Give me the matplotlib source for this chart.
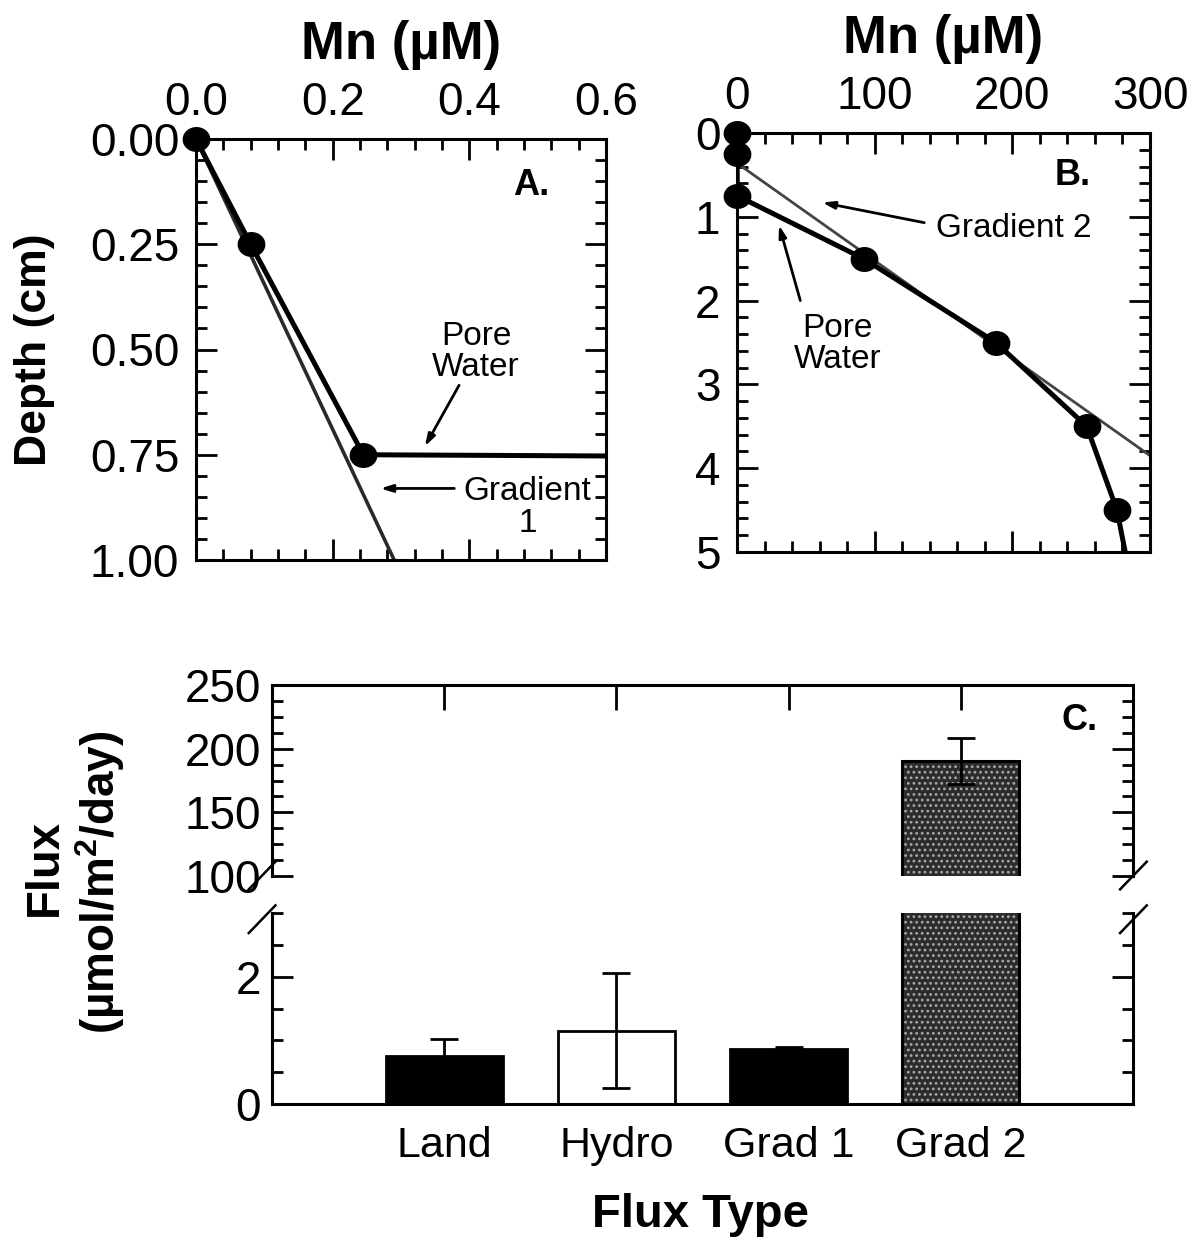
import numpy as np
import matplotlib
matplotlib.use("Agg")
import matplotlib.pyplot as plt
from matplotlib.path import Path
from matplotlib.ticker import MultipleLocator

plt.rcParams["font.family"] = ["Liberation Sans", "DejaVu Sans"]
plt.rcParams["mathtext.fontset"] = "custom"
plt.rcParams["mathtext.rm"] = "Liberation Sans"
plt.rcParams["mathtext.bf"] = "Liberation Sans:bold"
plt.rcParams["axes.linewidth"] = 2.2
plt.rcParams["hatch.linewidth"] = 1.2

# pore-water Mn profile: depth (cm) and Mn (uM)
pw_depth = [0.0, 0.25, 0.75, 1.5, 2.5, 3.5, 4.5, 5.5]
pw_mn = [0.0, 0.08, 0.245, 92.0, 188.0, 254.0, 276.0, 288.0]

# fitted gradients
grad1_depth = [0.0, 1.0]
grad1_mn = [0.0, 0.29]
grad2_depth = [0.36, 3.85]
grad2_mn = [0.0, 300.0]

# flux estimates (umol/m2/day)
flux_types = ["Land", "Hydro", "Grad 1", "Grad 2"]
flux_mean = [0.75, 1.15, 0.87, 190.0]
flux_err = [0.27, 0.9, 0.03, 18.0]
bar_colors = ["black", "white", "black", "#2c2c2c"]

W, H = 1187, 1254
TICK_FS = 33
NOTE_FS = 24
PANEL_FS = 26


def box(left, top, right, bottom):
    return [left / W, 1 - bottom / H, (right - left) / W, (bottom - top) / H]


# slightly wide dot, like the printed symbols
t = np.linspace(0, 2 * np.pi, 64)
dot = Path(np.column_stack([1.12 * np.cos(t), np.sin(t)]))


def profile(ax, xlim, ylim, xmaj, xmin, ymaj, ymin, xfmt, yfmt):
    ax.set_xlim(*xlim)
    ax.set_ylim(ylim[1], ylim[0])
    ax.plot(pw_mn, pw_depth, color="black", lw=3.6, solid_capstyle="butt", zorder=3)
    inside = [(m <= xlim[1]) and (d <= ylim[1]) for m, d in zip(pw_mn, pw_depth)]
    xs = [m for m, k in zip(pw_mn, inside) if k]
    ys = [d for d, k in zip(pw_depth, inside) if k]
    ax.plot(xs, ys, ls="none", marker=dot, ms=19, color="black", clip_on=False, zorder=4)
    ax.xaxis.set_major_locator(MultipleLocator(xmaj))
    ax.xaxis.set_minor_locator(MultipleLocator(xmin))
    ax.yaxis.set_major_locator(MultipleLocator(ymaj))
    ax.yaxis.set_minor_locator(MultipleLocator(ymin))
    ax.xaxis.set_major_formatter(xfmt)
    ax.yaxis.set_major_formatter(yfmt)
    ax.tick_params(which="both", direction="in", top=True, bottom=True, left=True, right=True,
                   labeltop=True, labelbottom=False, width=2, labelsize=TICK_FS)
    ax.tick_params(axis="x", pad=10)
    ax.tick_params(axis="y", pad=12)
    ax.tick_params(which="major", length=15)
    ax.tick_params(which="minor", length=8)
    ax.xaxis.set_label_position("top")
    ax.set_xlabel("Mn (µM)", fontsize=38, fontweight="bold", labelpad=16)


fig = plt.figure(figsize=(W / 100, H / 100), dpi=100)

arrow = dict(arrowstyle="-|>,head_length=0.7,head_width=0.22", lw=2, color="black",
             shrinkA=0, shrinkB=0)

# --- A: shallow profile ---
axA = fig.add_axes(box(196, 139, 606, 560))
profile(axA, (0, 0.6), (0, 1.0), 0.2, 0.04, 0.25, 0.05, "{x:.1f}", "{x:.2f}")
axA.plot(grad1_mn, grad1_depth, color="#2a2a2a", lw=2.6, zorder=2)
axA.text(0.49, 0.11, "A.", fontsize=PANEL_FS, fontweight="bold", ha="center", va="center")
axA.text(0.41, 0.505, "Pore\nWater", fontsize=NOTE_FS, ha="center", va="center", linespacing=1.0)
axA.annotate("", xy=(0.335, 0.73), xytext=(0.385, 0.585), arrowprops=arrow)
axA.text(0.485, 0.875, "Gradient\n1", fontsize=NOTE_FS, ha="center", va="center",
         linespacing=1.05)
axA.annotate("", xy=(0.27, 0.83), xytext=(0.378, 0.83), arrowprops=arrow)
fig.text(35 / W, 1 - 350 / H, "Depth (cm)", rotation=90, ha="center", va="center",
         fontsize=32, fontweight="bold")

# --- B: full profile ---
axB = fig.add_axes(box(737, 133, 1150, 552))
profile(axB, (0, 300), (0, 5), 100, 20, 1, 0.2, "{x:.0f}", "{x:.0f}")
axB.plot(grad2_mn, grad2_depth, color="#444444", lw=2.0, zorder=2)
axB.text(244, 0.51, "B.", fontsize=PANEL_FS, fontweight="bold", ha="center", va="center")
axB.text(201, 1.14, "Gradient 2", fontsize=NOTE_FS, ha="center", va="center")
axB.annotate("", xy=(62, 0.83), xytext=(136, 1.07), arrowprops=arrow)
axB.text(73, 2.52, "Pore\nWater", fontsize=NOTE_FS, ha="center", va="center", linespacing=1.0)
axB.annotate("", xy=(30.5, 1.1), xytext=(46, 2.0), arrowprops=arrow)

# --- C: fluxes on a broken axis ---
x = np.arange(len(flux_types))
ax_hi = fig.add_axes(box(272, 685, 1133, 876))
ax_lo = fig.add_axes(box(272, 913, 1133, 1104))

for ax in (ax_hi, ax_lo):
    ax.bar(x, flux_mean, width=0.68, color=bar_colors, edgecolor="black", lw=2, zorder=2)
    ax.bar(x[3], flux_mean[3], width=0.68, color="none", edgecolor="#a8a8a8",
           hatch="...", lw=0, zorder=2.2)
    ax.bar(x[3], flux_mean[3], width=0.68, color="none", edgecolor="black", lw=2.2, zorder=2.4)
    ax.errorbar(x, flux_mean, yerr=flux_err, fmt="none", ecolor="black", elinewidth=2,
                capsize=10, capthick=2, zorder=3)
    ax.set_xlim(-1, 4)
    ax.tick_params(which="both", direction="in", left=True, right=True, width=2,
                   labelsize=TICK_FS, pad=8)
    ax.tick_params(which="major", length=15)
    ax.tick_params(which="minor", length=8)

ax_hi.set_ylim(100, 250)
ax_hi.yaxis.set_major_locator(MultipleLocator(50))
ax_hi.yaxis.set_minor_locator(MultipleLocator(12.5))
ax_hi.set_xticks(x)
ax_hi.tick_params(axis="x", top=True, bottom=False, labelbottom=False, length=18)
ax_hi.spines["bottom"].set_visible(False)
ax_hi.text(3.69, 222, "C.", fontsize=PANEL_FS, fontweight="bold", ha="center", va="center")

ax_lo.set_ylim(0, 3)
ax_lo.yaxis.set_major_locator(MultipleLocator(2))
ax_lo.yaxis.set_minor_locator(MultipleLocator(0.5))
ax_lo.set_xticks(x, flux_types)
ax_lo.tick_params(axis="x", top=False, bottom=True, length=0, labelsize=31, pad=16)
ax_lo.spines["top"].set_visible(False)

# break marks
kw = dict(color="black", lw=1.8, clip_on=False)
for xb in (-0.027, 0.985):
    ax_hi.plot([xb, xb + 0.031], [-0.07, 0.075], transform=ax_hi.transAxes, **kw)
    ax_lo.plot([xb, xb + 0.031], [0.895, 1.04], transform=ax_lo.transAxes, **kw)

fig.text(45 / W, 1 - 868 / H, "Flux", rotation=90, ha="center", va="center",
         fontsize=34, fontweight="bold")
fig.text(100 / W, 1 - 882 / H, r"(µmol/m$^{\mathbf{2}}$/day)", rotation=90, ha="center",
         va="center", fontsize=33, fontweight="bold")
fig.text(700 / W, 1 - 1215 / H, "Flux Type", ha="center", va="center",
         fontsize=34, fontweight="bold")

fig.savefig("out.png", dpi=100)
